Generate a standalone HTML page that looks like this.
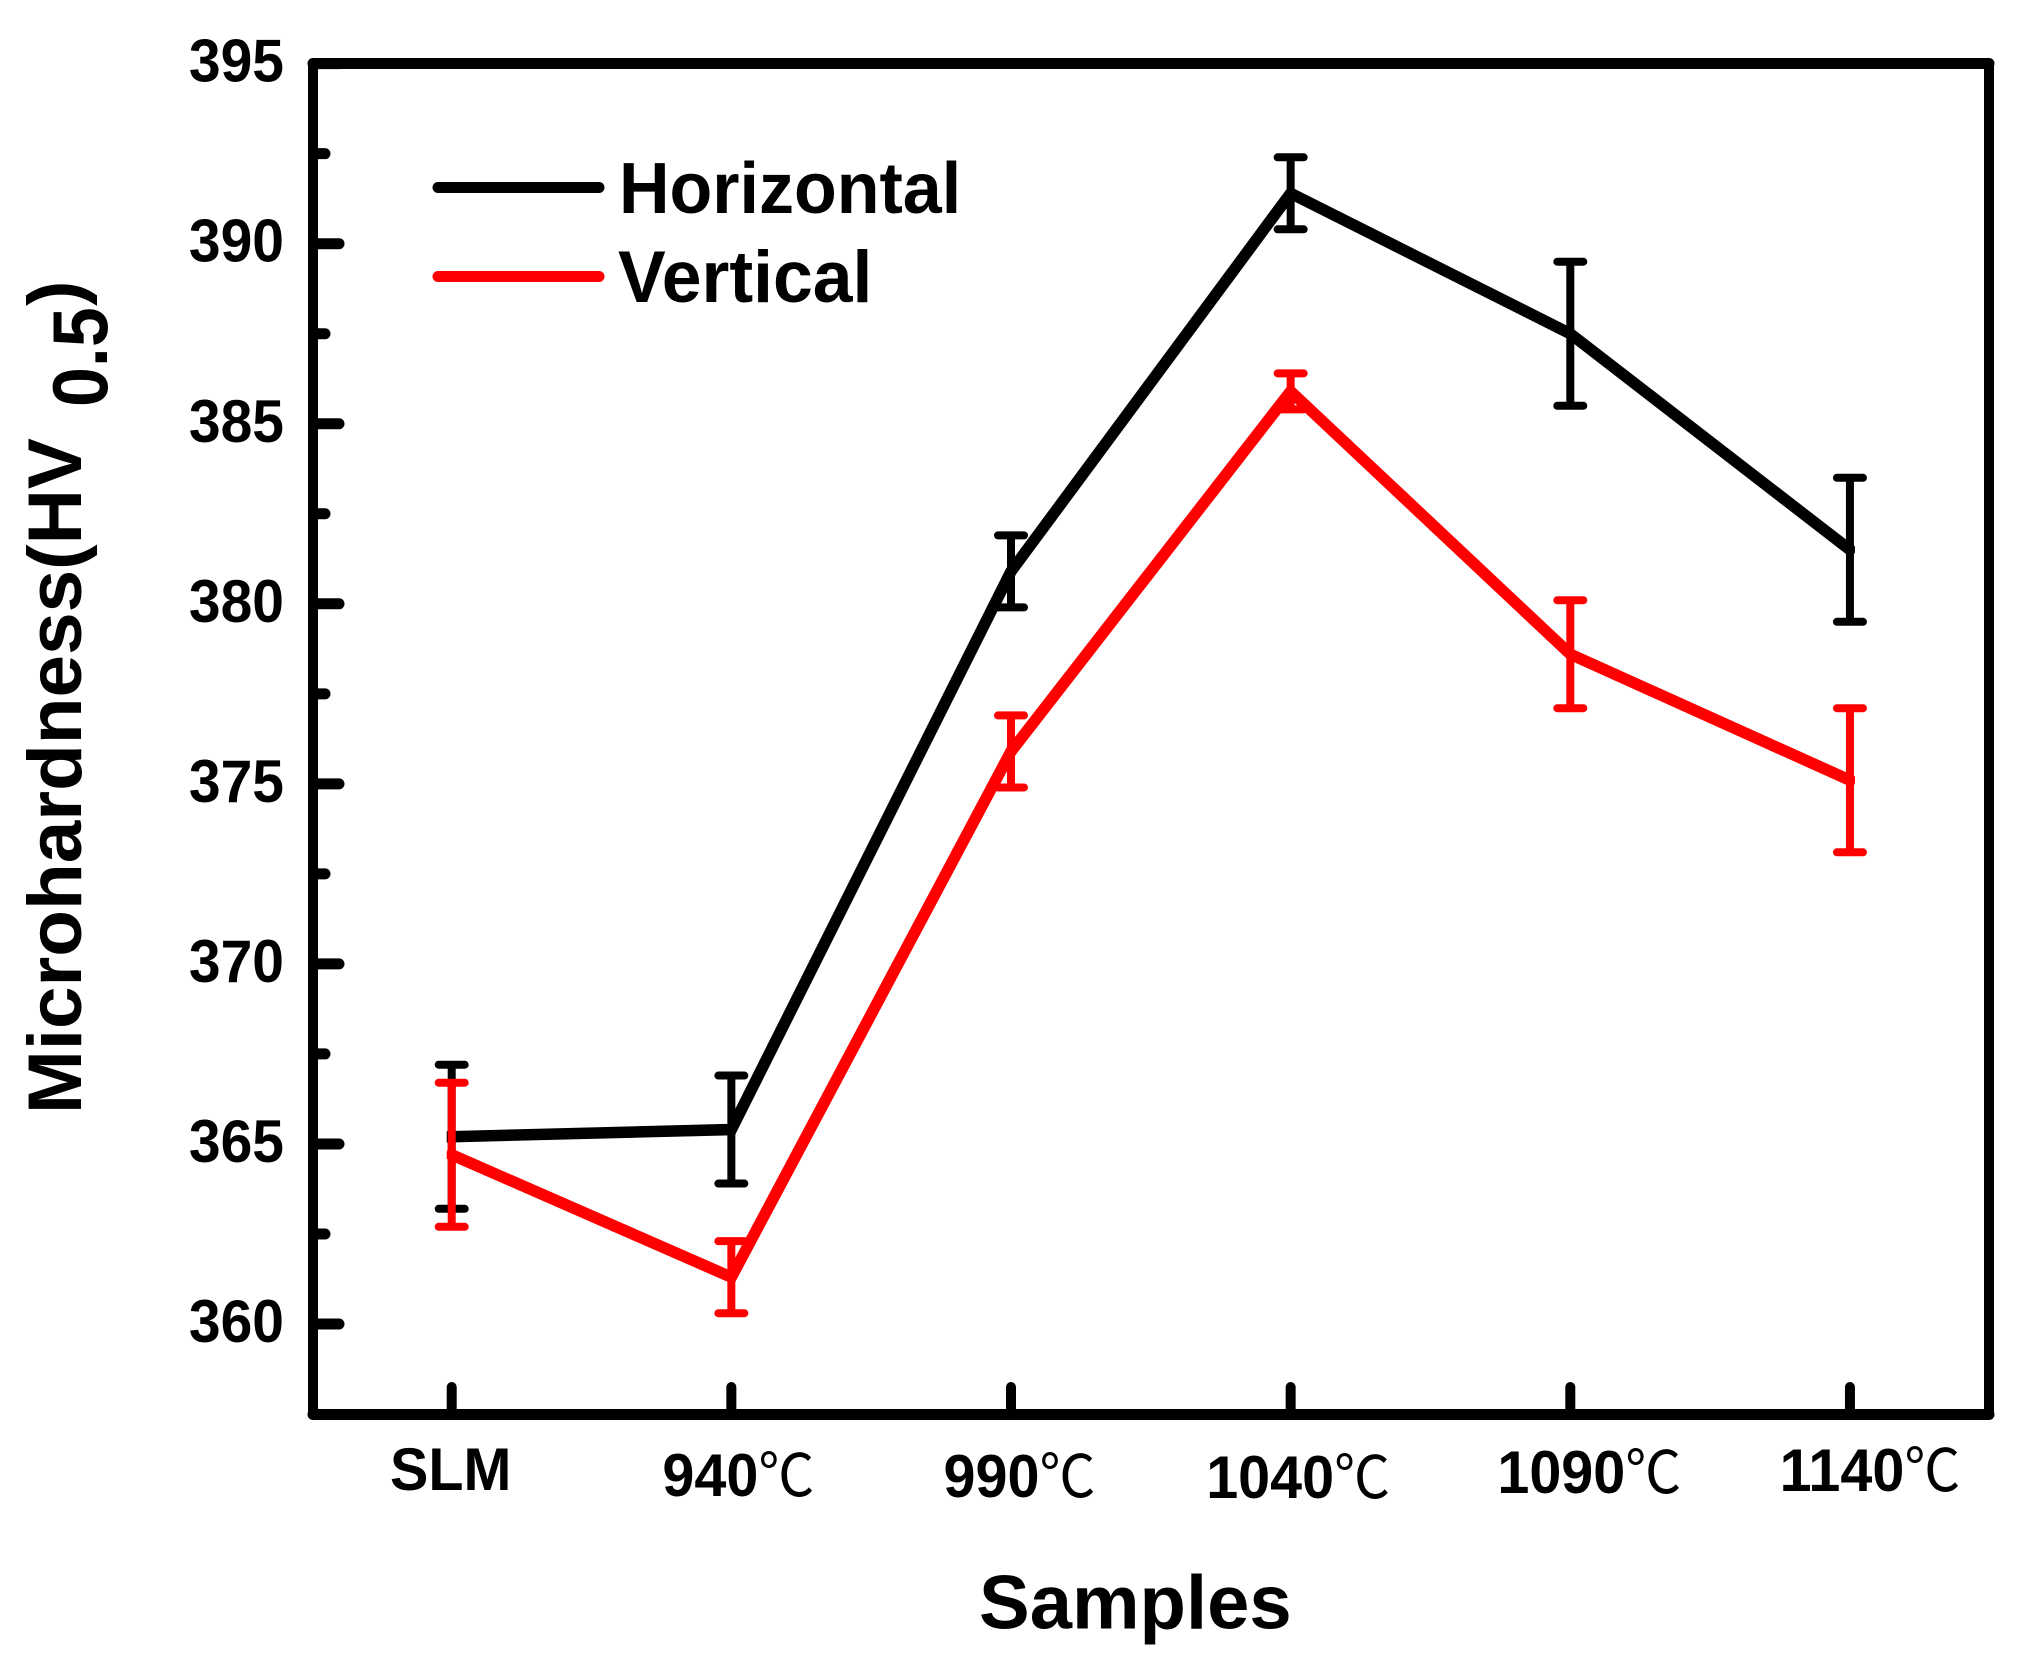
<!DOCTYPE html>
<html lang="en">
<head>
<meta charset="utf-8">
<title>Microhardness of samples</title>
<style>
html,body{margin:0;padding:0;background:#fff;}
svg{display:block;}
text{font-family:"Liberation Sans","Noto Sans CJK SC",sans-serif;font-weight:bold;fill:#000;}
</style>
</head>
<body>
<svg id="chart" xmlns="http://www.w3.org/2000/svg" width="2025" height="1667" viewBox="0 0 2025 1667">
  <defs><clipPath id="series-clip"><rect id="series-clip-rect" x="0" y="0" width="2025" height="1667"/></clipPath></defs>
  <rect x="0" y="0" width="2025" height="1667" fill="#fff"/>
  <g id="ticks"></g>
  <g id="series"></g>
  <g stroke="#000" stroke-linecap="round">
    <line x1="313" y1="63.5" x2="1989" y2="63.5" stroke-width="11"/>
    <line x1="313" y1="1414.5" x2="1989" y2="1414.5" stroke-width="11"/>
    <line x1="313" y1="63.5" x2="313" y2="1414.5" stroke-width="10"/>
    <line x1="1989" y1="63.5" x2="1989" y2="1414.5" stroke-width="10"/>
  </g>
  <g>
    <g>
      <line x1="438" y1="187.5" x2="599" y2="187.5" stroke="#000" stroke-width="11" stroke-linecap="round"/>
      <text transform="translate(619,213) scale(1,1.03)" font-size="70">Horizontal</text>
    </g>
    <g>
      <line x1="438" y1="276.5" x2="599" y2="276.5" stroke="#f00" stroke-width="11" stroke-linecap="round"/>
      <text transform="translate(618,302) scale(1,1.03)" font-size="71.5">Vertical</text>
    </g>
  </g>
  <text x="979" y="1628.5" font-size="76">Samples</text>
  <g>
    <text transform="translate(81,1114) rotate(-90)" font-size="76.5">Microhardness(HV</text>
    <text transform="translate(107,407) rotate(-90) scale(.92,1)" font-size="78">0.5</text>
    <text transform="translate(81,306) rotate(-90)" font-size="76.5">)</text>
  </g>
</svg>
<script>
const categories = ['SLM', '940℃', '990℃', '1040℃', '1090℃', '1140℃'];
const yMajorTicks = [360, 365, 370, 375, 380, 385, 390, 395];
const yMinorTicks = [362.5, 367.5, 372.5, 377.5, 382.5, 387.5, 392.5];
const horizontalValues = [365.2, 365.4, 380.9, 391.4, 387.5, 381.5];
const horizontalErrors = [2, 1.5, 1, 1, 2, 2];
const verticalValues = [364.7, 361.3, 375.9, 385.9, 378.6, 375.1];
const verticalErrors = [2, 1, 1, 0.5, 1.5, 2];

const labelNudgeX = [-1, 7, 8.5, 7.5, 19, 20];
const labelBaseline = [1490, 1496, 1497, 1498, 1493, 1491];

const SVGNS = 'http://www.w3.org/2000/svg';
function xScale(i) { return 451.7 + 279.65 * i; }
function yScale(v) { return 1324 - 36.01 * (v - 360); }
function make(parent, tag, attrs) {
  const node = document.createElementNS(SVGNS, tag);
  for (const k in attrs) node.setAttribute(k, attrs[k]);
  parent.appendChild(node);
  return node;
}

const ticksG = document.getElementById('ticks');
const seriesG = document.getElementById('series');
const clipRect = document.getElementById('series-clip-rect');
clipRect.setAttribute('x', xScale(0) - 5);
clipRect.setAttribute('width', xScale(categories.length - 1) - xScale(0) + 10);

yMajorTicks.forEach(function (v) {
  const t = make(ticksG, 'line', {x1: 318, x2: 339, y1: yScale(v), y2: yScale(v), stroke: '#000', 'stroke-width': 11, 'stroke-linecap': 'round'});
  
  
  const l = make(ticksG, 'text', {transform: 'translate(284,' + (yScale(v) + 18) + ') scale(1,1.05)', 'text-anchor': 'end', 'font-size': 57});
  
  
  l.textContent = String(v);
});

yMinorTicks.forEach(function (v) {
  const t = make(ticksG, 'line', {x1: 318, x2: 325, y1: yScale(v), y2: yScale(v), stroke: '#000', 'stroke-width': 11, 'stroke-linecap': 'round'});
  
  
});

categories.forEach(function (c, i) {
  const t = make(ticksG, 'line', {x1: xScale(i), x2: xScale(i), y1: 1414, y2: 1387, stroke: '#000', 'stroke-width': 10, 'stroke-linecap': 'round'});
  
  
  const l = make(ticksG, 'text', {transform: 'translate(' + (xScale(i) + labelNudgeX[i]) + ',' + labelBaseline[i] + ') scale(1,1.05)', 'text-anchor': 'middle', 'font-size': 57.5});
  
  
  const digits = make(l, 'tspan', {});
  digits.textContent = c.replace('℃', '');
  if (c.indexOf('℃') >= 0) {
    const unit = make(l, 'tspan', {'font-weight': 400, 'font-size': 56, 'font-family': '"Noto Sans CJK SC","Liberation Sans",sans-serif'});
    unit.textContent = '℃';
  }
});

function drawSeries(key, color, values, errors) {
  const group = make(seriesG, 'g', {});
  
  
  const points = values.map(function (v, i) { return xScale(i) + ',' + yScale(v); }).join(' ');
  const line = make(group, 'polyline', {points: points, fill: 'none', stroke: color, 'stroke-width': 11.5, 'stroke-linecap': 'square', 'stroke-linejoin': 'miter', 'clip-path': 'url(#series-clip)'});
  
  
  values.forEach(function (v, i) {
    const x = xScale(i), hi = yScale(v + errors[i]), lo = yScale(v - errors[i]);
    const bar = make(group, 'g', {stroke: color, 'stroke-width': 8});
    
    
    make(bar, 'line', {x1: x, x2: x, y1: hi, y2: lo});
    make(bar, 'line', {x1: x - 13, x2: x + 13, y1: hi, y2: hi, 'stroke-linecap': 'round'});
    make(bar, 'line', {x1: x - 13, x2: x + 13, y1: lo, y2: lo, 'stroke-linecap': 'round'});
  });
}
drawSeries('horizontal', '#000', horizontalValues, horizontalErrors);
drawSeries('vertical', '#f00', verticalValues, verticalErrors);
</script>
</body>
</html>
